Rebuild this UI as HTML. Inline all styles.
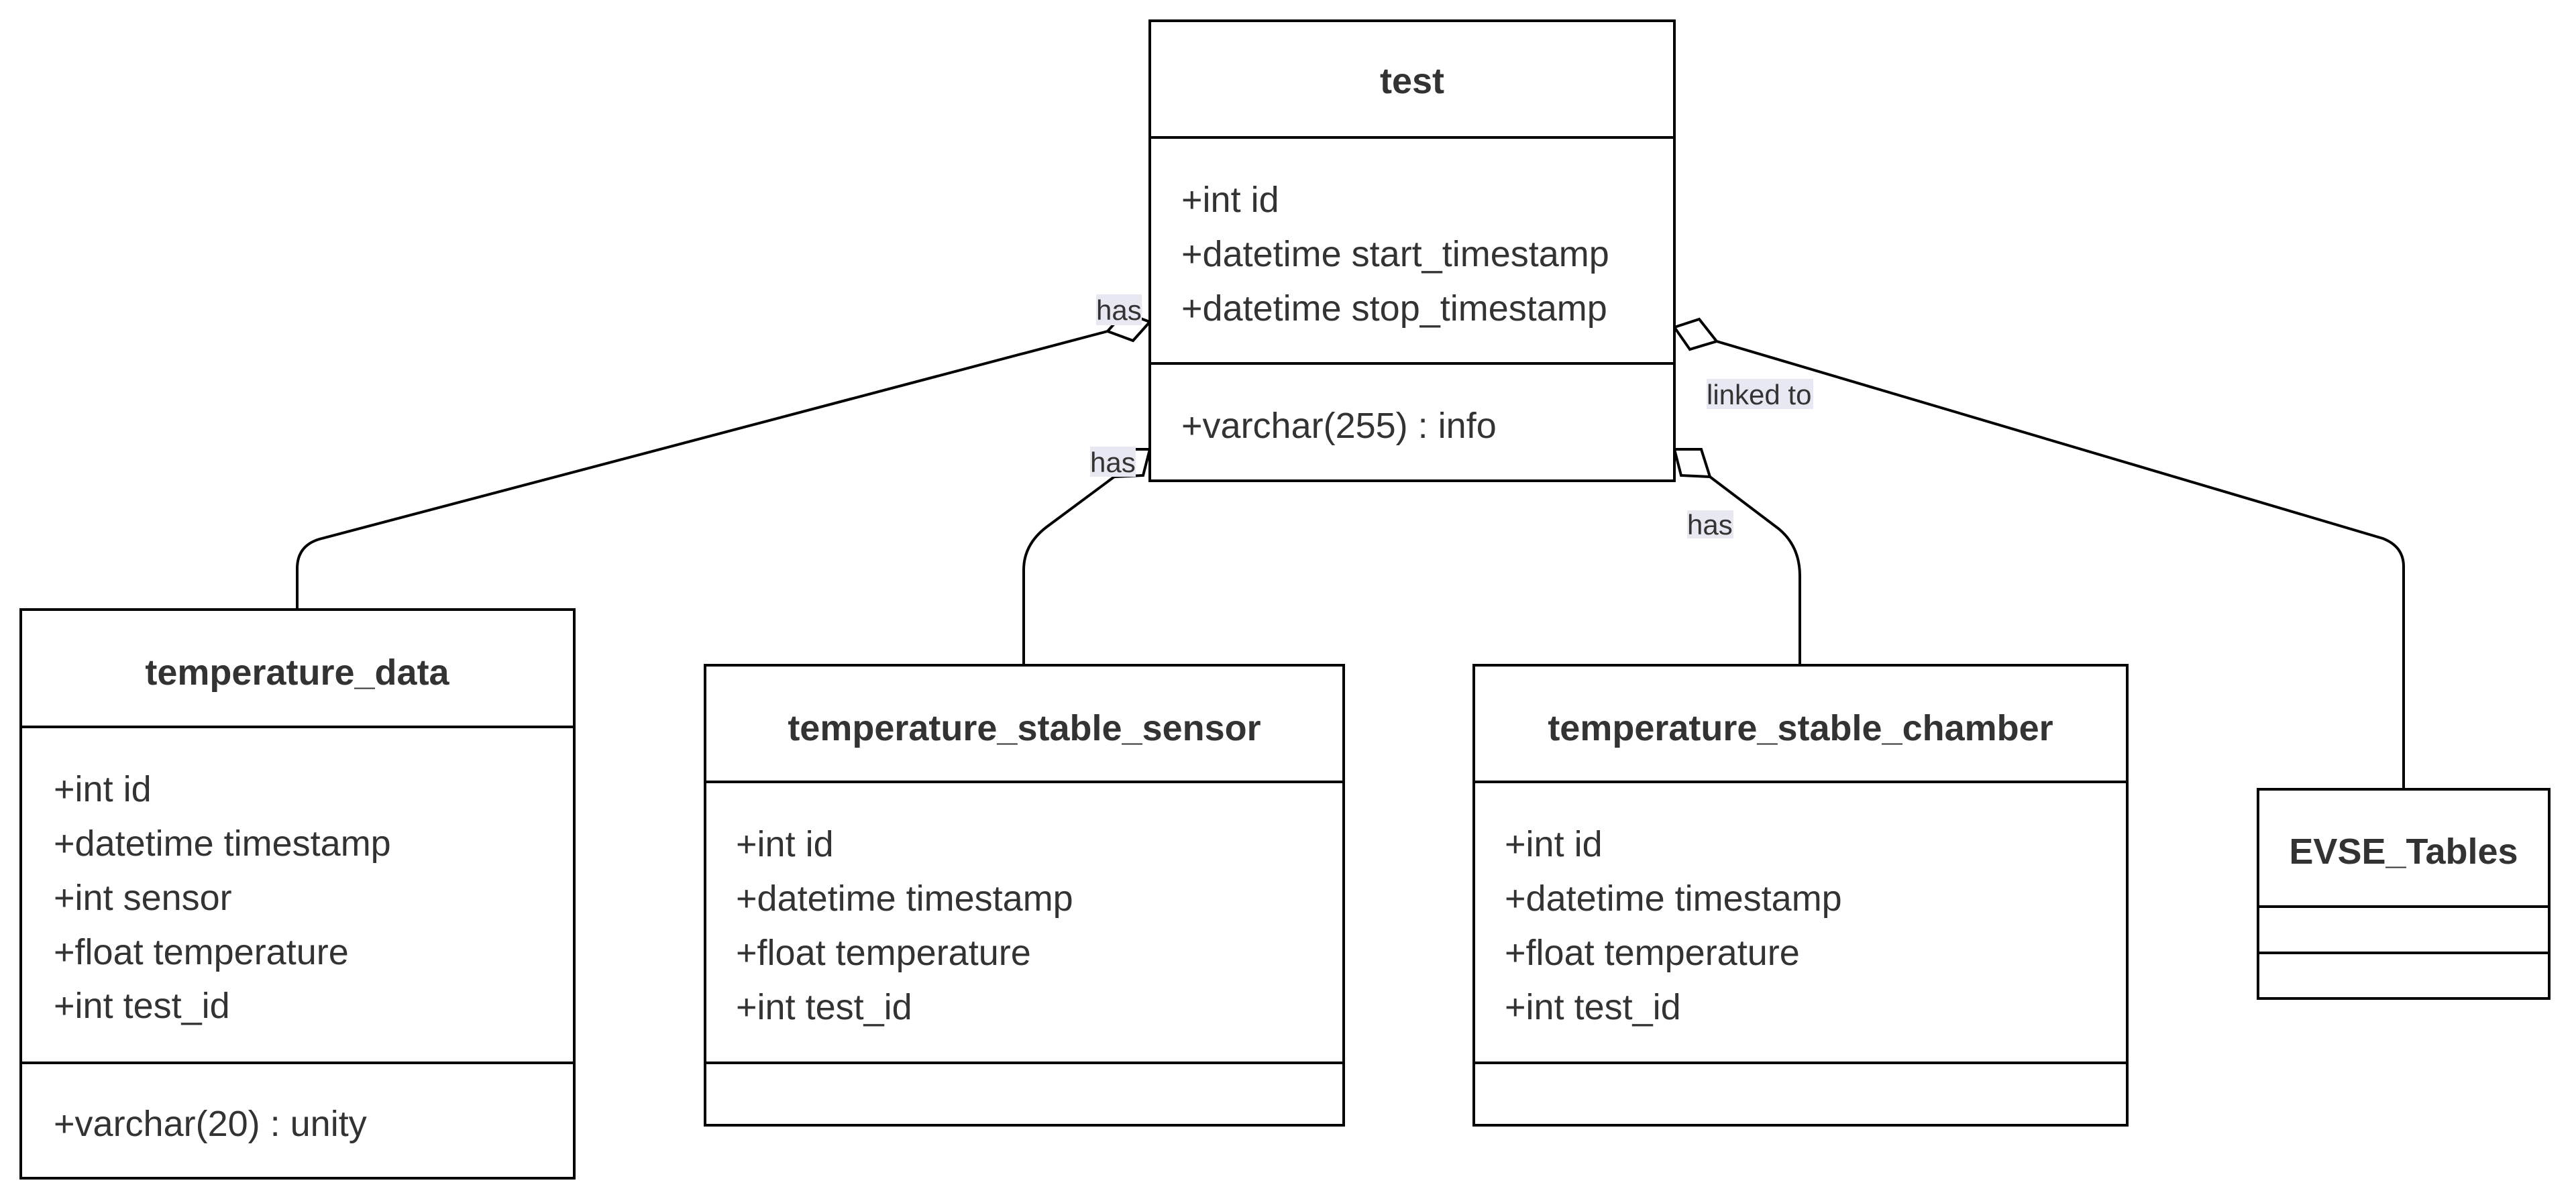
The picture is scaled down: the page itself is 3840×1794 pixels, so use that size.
<!DOCTYPE html>
<html><head><meta charset="utf-8"><style>
html,body{margin:0;padding:0;background:#fff;}
svg{display:block;}
text{font-family:"Liberation Sans",Arial,sans-serif;fill:#333;}
.t{font-weight:bold;font-size:54px;text-anchor:middle;}
.a{font-size:54px;}
.l{font-size:42px;}
.b{fill:#fff;stroke:#000;stroke-width:4;}
.ln{fill:none;stroke:#000;stroke-width:4;}
</style></head><body>
<svg width="3840" height="1794" viewBox="0 0 3840 1794" xmlns="http://www.w3.org/2000/svg">
<path class="ln" d="M1651,494 L476,804 Q443,814 443,848 L443,909"/>
<path class="ln" d="M1661,711 L1560,786 Q1526,812 1526,850 L1526,992"/>
<path class="ln" d="M2549,711 L2652,789 Q2683,815 2683,859 L2683,991"/>
<path class="ln" d="M2559,509 L3552,803 Q3583,815 3583,845 L3583,1177"/>
<polygon class="b" points="1714,480 1689,508 1651,494 1676,466"/>
<polygon class="b" points="1714,670 1674,670 1661,711 1704,709"/>
<polygon class="b" points="2496,670 2536,670 2549,711 2506,709"/>
<polygon class="b" points="2496,488 2533,476 2559,509 2519,521"/>
<rect x="1634" y="439" width="68" height="46" fill="#e8e8f2"/>
<text class="l" x="1634" y="477">has</text>
<rect x="1625" y="666" width="68" height="45" fill="#e8e8f2"/>
<text class="l" x="1625" y="704">has</text>
<rect x="2544" y="565" width="159" height="45" fill="#e8e8f2"/>
<text class="l" x="2544" y="603">linked to</text>
<rect x="2515" y="761" width="69" height="42" fill="#e8e8f2"/>
<text class="l" x="2515" y="797">has</text>
<rect class="b" x="1714" y="31" width="782" height="686"/>
<line class="ln" x1="1714" y1="205" x2="2496" y2="205"/>
<line class="ln" x1="1714" y1="542" x2="2496" y2="542"/>
<text class="t" x="2105" y="139">test</text>
<text class="a" x="1761" y="316">+int id</text>
<text class="a" x="1761" y="397">+datetime start_timestamp</text>
<text class="a" x="1761" y="478">+datetime stop_timestamp</text>
<text class="a" x="1761" y="653">+varchar(255) : info</text>
<rect class="b" x="31" y="909" width="825" height="848"/>
<line class="ln" x1="31" y1="1084" x2="856" y2="1084"/>
<line class="ln" x1="31" y1="1585" x2="856" y2="1585"/>
<text class="t" x="443" y="1021">temperature_data</text>
<text class="a" x="80" y="1195">+int id</text>
<text class="a" x="80" y="1276">+datetime timestamp</text>
<text class="a" x="80" y="1357">+int sensor</text>
<text class="a" x="80" y="1438">+float temperature</text>
<text class="a" x="80" y="1518">+int test_id</text>
<text class="a" x="80" y="1694">+varchar(20) : unity</text>
<rect class="b" x="1051" y="992" width="952" height="686"/>
<line class="ln" x1="1051" y1="1166" x2="2003" y2="1166"/>
<line class="ln" x1="1051" y1="1585" x2="2003" y2="1585"/>
<text class="t" x="1527" y="1104">temperature_stable_sensor</text>
<text class="a" x="1097" y="1277">+int id</text>
<text class="a" x="1097" y="1358">+datetime timestamp</text>
<text class="a" x="1097" y="1439">+float temperature</text>
<text class="a" x="1097" y="1520">+int test_id</text>
<rect class="b" x="2197" y="992" width="974" height="686"/>
<line class="ln" x1="2197" y1="1166" x2="3171" y2="1166"/>
<line class="ln" x1="2197" y1="1585" x2="3171" y2="1585"/>
<text class="t" x="2684" y="1104">temperature_stable_chamber</text>
<text class="a" x="2243" y="1277">+int id</text>
<text class="a" x="2243" y="1358">+datetime timestamp</text>
<text class="a" x="2243" y="1439">+float temperature</text>
<text class="a" x="2243" y="1520">+int test_id</text>
<rect class="b" x="3366" y="1177" width="434" height="312"/>
<line class="ln" x1="3366" y1="1352" x2="3800" y2="1352"/>
<line class="ln" x1="3366" y1="1421" x2="3800" y2="1421"/>
<text class="t" x="3583" y="1288">EVSE_Tables</text>
</svg>
</body></html>
